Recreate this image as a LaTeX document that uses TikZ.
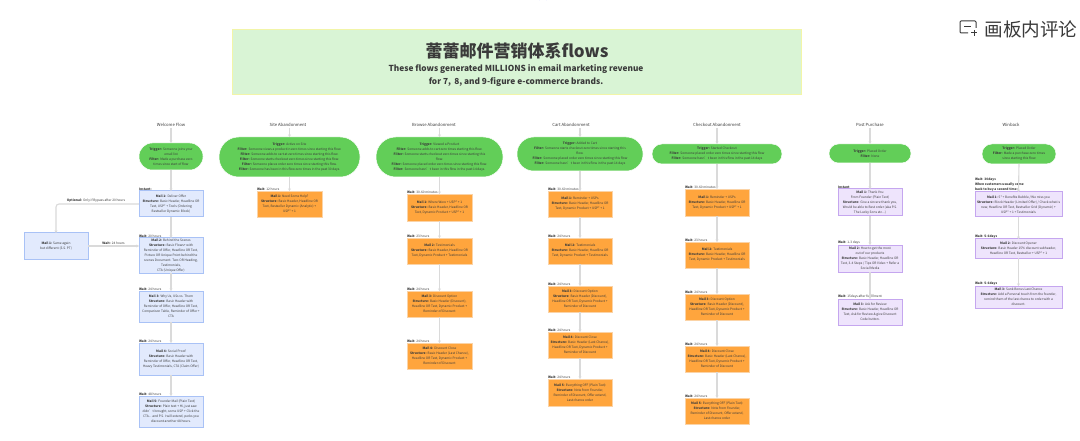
\documentclass[tikz,border=0pt]{standalone}
\usepackage{fontspec}
\setmainfont{Noto Sans CJK SC}
\usetikzlibrary{arrows.meta}
\definecolor{linegrey}{HTML}{DADADA}
\definecolor{inkgrey}{HTML}{3A3A3A}
\definecolor{pillgreen}{HTML}{62CE58}
\definecolor{orangefill}{HTML}{FFA53D}
\definecolor{orangeedge}{HTML}{FBD3A6}
\definecolor{bluefill}{HTML}{E2EAFD}
\definecolor{blueedge}{HTML}{A9C2F6}
\definecolor{purplefill}{HTML}{EEE4FC}
\definecolor{purpleedge}{HTML}{C5A6EF}
\definecolor{titlefill}{HTML}{D9F4D5}
\definecolor{titleedge}{HTML}{F2F5A8}
\tikzset{
  tinytext/.style={font=\fontsize{3.2}{5}\selectfont,text=inkgrey,align=center,inner sep=0pt,outer sep=0pt},
  pillbox/.style={tinytext,fill=pillgreen,draw=white,line width=.5pt},
  orangebox/.style={tinytext,fill=orangefill,draw=orangeedge,line width=.6pt},
  bluebox/.style={tinytext,fill=bluefill,draw=blueedge,line width=1pt},
  purplebox/.style={tinytext,fill=purplefill,draw=purpleedge,line width=1pt},
  flowtitle/.style={font=\fontsize{4.2}{5}\selectfont,text=inkgrey,inner sep=1pt},
  waitlabel/.style={tinytext,align=left,anchor=south west,yshift=.6pt},
  sidelabel/.style={tinytext},
  link/.style={draw=linegrey,line width=1.1pt,-{Stealth[length=2.6pt,width=3pt]}},
}
\newcommand{\flowbox}[7]{\node[#2,minimum width={(#5-#3)*1pt},minimum height={(#6-#4)*1pt}] (#1) at ({(#3+#5)/2},{(#4+#6)/2}) {#7};}
\newcommand{\pillnode}[6]{\node[pillbox,rounded corners={(#5-#3)*.49pt},minimum width={(#4-#2)*1pt},minimum height={(#5-#3)*1pt}] (#1) at ({(#2+#4)/2},{(#3+#5)/2}) {#6};}
\newcommand{\waitnode}[3]{\node[waitlabel] (#1) at (#2.north west) {#3};}
\newcommand{\titlenode}[3]{\node[flowtitle] (#1) at (#2,125) {#3};}
\newcommand{\lb}[1]{\textbf{#1}}
\begin{document}
\begin{tikzpicture}[x=1pt,y=-1pt]
\useasboundingbox (0,0) rectangle (1080,441);
\fill[white] (0,0) rectangle (1080,441);
% top marker and comment button
\draw[draw=blue!70!white,line width=.9pt] (539.5,0) arc[start angle=180,end angle=360,radius=3.5];
\draw[draw=inkgrey,line width=1pt,rounded corners=1pt] (968,33) -- (960,33) -- (960,21) -- (976,21) -- (976,28);
\draw[draw=inkgrey,line width=1pt] (971,33) -- (977,33) (974,30) -- (974,36) (964,27) -- (971,27);
\node[font=\fontsize{18.6}{20}\selectfont,text=inkgrey,inner sep=0pt] (comment) at (1031,29) {画板内评论};
% banner
\node[fill=titlefill,draw=titleedge,line width=.7pt,minimum width=569pt,minimum height=65pt,inner sep=0pt] (banner) at (516.5,61.5) {};
\node[font=\fontsize{17}{20}\selectfont\bfseries,text=inkgrey,inner sep=0pt] (bannertitle) at (517,51) {蕾蕾邮件营销体系flows};
\node[font=\fontsize{8.3}{12.6}\selectfont\bfseries,text=inkgrey,align=center,inner sep=0pt] (bannersub) at (516,75.5) {These flows generated MILLIONS in email marketing revenue\\for 7, \,8, and 9-figure e-commerce brands.};
% ---------- Welcome
\titlenode{wt}{171}{Welcome Flow}
\pillnode{wp}{139}{143}{203}{170}{\lb{Trigger:} Someone joins your\\email list\\[.6pt]\lb{Filter:} Made a purchase zero\\times since start of flow}
\flowbox{wa}{bluebox}{139}{191}{203}{217}{\lb{Mail 1:} Deliver Offer\\\lb{Structure:} Basic Header, Headline OR\\Text, USP* + Tools (Ordering\\Bestseller Dynamic Block)}
\flowbox{wb}{bluebox}{139}{238}{203}{273}{\lb{Mail 2:} Behind the Scenes\\\lb{Structure:} Basic Flows+ with\\Reminder of Offer, Headline OR Text,\\Picture OR Unique Point behind the\\scenes Document. Two OR Heading,\\Testimonials,\\CTA (Unique Offer)}
\flowbox{wc}{bluebox}{139}{291}{203}{322}{\lb{Mail 3:} Why Us, USs vs. Them\\\lb{Structure:} Basic Header with\\Reminder of Offer, Headline OR Text,\\Comparison Table, Reminder of Offer +\\CTA}
\flowbox{wd}{bluebox}{139}{343}{203}{375}{\lb{Mail 4:} Social Proof\\\lb{Structure:} Basic Header with\\Reminder of Offer, Headline OR Text,\\Heavy Testimonials, CTA (Claim Offer)}
\flowbox{we}{bluebox}{139}{396}{203}{427}{\lb{Mail 5:} Founder Mail (Plain Text)\\\lb{Structure:} Plain text + Hi, just saw\\didn't brought, some USP + Click the\\CTA... and P.S. I will extend, perks you\\discount another 48 hours.}
\flowbox{wf}{bluebox}{24}{233}{88}{259}{\lb{Mail 1:} Same again\\but different (S.S. PT)}
\waitnode{wal}{wa}{\lb{Instant:}}
\waitnode{wbl}{wb}{\lb{Wait:} 20 hours}
\waitnode{wcl}{wc}{\lb{Wait:} 24 hours}
\waitnode{wdl}{wd}{\lb{Wait:} 24 hours}
\waitnode{wel}{we}{\lb{Wait:} 48 hours}
\draw[link] (wt.south -| wp.north) -- (wp.north);
\draw[link] (wp.south) -- (wa.north);
\draw[link] (wa.south) -- (wb.north);
\draw[link] (wb.south) -- (wc.north);
\draw[link] (wc.south) -- (wd.north);
\draw[link] (wd.south) -- (we.north);
\draw[link,rounded corners=3pt] (wa.west) -| (wf.north);
\draw[link] (wf.east) -- (wf.east -| wb.west);
\node[sidelabel] (wol) at (96,201) {\lb{Optional:} Only if Bypass after 20 hours};
\node[sidelabel] (wfl) at (113.5,243.5) {\lb{Wait:} 24 hours};
% ---------- Site
\titlenode{st}{288}{Site Abandonment}
\pillnode{sp}{219}{137}{360}{177}{\lb{Trigger:} Active on Site\\\lb{Filter:} Someone views a product in zero times since starting this flow.\\\lb{Filter:} Someone adds to cart at zero times since starting this flow.\\\lb{Filter:} Someone starts checkout zero times since starting this flow.\\\lb{Filter:} Someone places order zero times since starting this flow.\\\lb{Filter:} Someone has been in this flow zero times in the past 30 days.}
\flowbox{sa}{orangebox}{257}{191}{322}{217}{\lb{Mail 1:} Need Some Help?\\\lb{Structure:} Basic Header, Headline OR\\Text, Bestseller Dynamic (Analytic) +\\USP* + 1}
\waitnode{sal}{sa}{\lb{Wait:} 12 hours}
\draw[link] (st.south -| sp.north) -- (sp.north);
\draw[link] (sp.south) -- (sa.north);
% ---------- Browse
\titlenode{bt}{434}{Browse Abandonment}
\pillnode{bp}{376}{137}{503}{177}{\lb{Trigger:} Viewed a Product\\\lb{Filter:} Someone adds to cart zero times starting this flow.\\\lb{Filter:} Someone starts checkout zero times since starting this\\flow.\\\lb{Filter:} Someone placed order zero times since starting this flow.\\\lb{Filter:} Someone hasn't been in this flow in the past 14 days.}
\flowbox{ba}{orangebox}{407}{194}{472}{221}{\lb{Mail 1:} Where Were + USP* + 1\\\lb{Structure:} Basic Header, Headline OR\\Text, Dynamic Product + USP* + 1}
\flowbox{bb}{orangebox}{407}{238}{472}{264}{\lb{Mail 2:} Testimonials\\\lb{Structure:} Basic Header, Headline OR\\Text, Dynamic Product + Testimonials}
\flowbox{bc}{orangebox}{407}{291}{472}{317}{\lb{Mail 3:} Discount Option\\\lb{Structure:} Basic Header (Discount),\\Headline OR Text, Dynamic Product +\\Reminder of Discount}
\flowbox{bd}{orangebox}{407}{343}{472}{369}{\lb{Mail 4:} Discount Close\\\lb{Structure:} Basic Header (Last Chance),\\Headline OR Text, Dynamic Product +\\Reminder of Discount}
\waitnode{bal}{ba}{\lb{Wait:} 30-60 minutes}
\waitnode{bbl}{bb}{\lb{Wait:} 23 hours}
\waitnode{bcl}{bc}{\lb{Wait:} 24 hours}
\waitnode{bdl}{bd}{\lb{Wait:} 24 hours}
\draw[link] (bt.south -| bp.north) -- (bp.north);
\draw[link] (bp.south) -- (ba.north);
\draw[link] (ba.south) -- (bb.north);
\draw[link] (bb.south) -- (bc.north);
\draw[link] (bc.south) -- (bd.north);
% ---------- Cart
\titlenode{ct}{571}{Cart Abandonment}
\pillnode{cp}{517}{137}{643}{171}{\lb{Trigger:} Added to Cart\\\lb{Filter:} Someone starts checkout zero times since starting this\\flow.\\\lb{Filter:} Someone placed order zero times since starting this flow\\\lb{Filter:} Someone hasn't been in this flow in the past 14 days}
\flowbox{ca}{orangebox}{548}{191}{612}{217}{\lb{Mail 1:} Reminder + USPs\\\lb{Structure:} Basic Header, Headline OR\\Text, Dynamic Product + USP* + 1}
\flowbox{cb}{orangebox}{548}{238}{612}{264}{\lb{Mail 2:} Testimonials\\\lb{Structure:} Basic Header, Headline OR\\Text, Dynamic Product + Testimonials}
\flowbox{cc}{orangebox}{548}{286}{612}{312}{\lb{Mail 3:} Discount Option\\\lb{Structure:} Basic Header (Discount),\\Headline OR Text, Dynamic Product +\\Reminder of Discount}
\flowbox{cd}{orangebox}{548}{332}{612}{358}{\lb{Mail 4:} Discount Close\\\lb{Structure:} Basic Header (Last Chance),\\Headline OR Text, Dynamic Product +\\Reminder of Discount}
\flowbox{ce}{orangebox}{548}{379}{612}{406}{\lb{Mail 5:} Everything OFF (Plain Text)\\\lb{Structure:} Note from Founder,\\Reminder of Discount, Offer extend,\\Last chance order}
\waitnode{cal}{ca}{\lb{Wait:} 30-60 minutes}
\waitnode{cbl}{cb}{\lb{Wait:} 24 hours}
\waitnode{ccl}{cc}{\lb{Wait:} 24 hours}
\waitnode{cdl}{cd}{\lb{Wait:} 24 hours}
\waitnode{cel}{ce}{\lb{Wait:} 24 hours}
\draw[link] (ct.south -| cp.north) -- (cp.north);
\draw[link] (cp.south) -- (ca.north);
\draw[link] (ca.south) -- (cb.north);
\draw[link] (cb.south) -- (cc.north);
\draw[link] (cc.south) -- (cd.north);
\draw[link] (cd.south) -- (ce.north);
% ---------- Checkout
\titlenode{kt}{717}{Checkout Abandonment}
\pillnode{kp}{652}{144}{782}{164}{\lb{Trigger:} Started Checkout\\\lb{Filter:} Someone placed order zero times since starting this flow\\\lb{Filter:} Someone hasn't been in this flow in the past 14 days}
\flowbox{ka}{orangebox}{685}{189}{749}{216}{\lb{Mail 1:} Reminder + USPs\\\lb{Structure:} Basic Header, Headline OR\\Text, Dynamic Product + USP* + 1}
\flowbox{kb}{orangebox}{685}{242}{749}{268}{\lb{Mail 2:} Testimonials\\\lb{Structure:} Basic Header, Headline OR\\Text, Dynamic Product + Testimonials}
\flowbox{kc}{orangebox}{685}{294}{749}{320}{\lb{Mail 3:} Discount Option\\\lb{Structure:} Basic Header (Discount),\\Headline OR Text, Dynamic Product +\\Reminder of Discount}
\flowbox{kd}{orangebox}{685}{346}{749}{372}{\lb{Mail 4:} Discount Close\\\lb{Structure:} Basic Header (Last Chance),\\Headline OR Text, Dynamic Product +\\Reminder of Discount}
\flowbox{ke}{orangebox}{685}{398}{749}{424}{\lb{Mail 5:} Everything OFF (Plain Text)\\\lb{Structure:} Note from Founder,\\Reminder of Discount, Offer extend,\\Last chance order}
\waitnode{kal}{ka}{\lb{Wait:} 30-60 minutes}
\waitnode{kbl}{kb}{\lb{Wait:} 23 hours}
\waitnode{kcl}{kc}{\lb{Wait:} 24 hours}
\waitnode{kdl}{kd}{\lb{Wait:} 24 hours}
\waitnode{kel}{ke}{\lb{Wait:} 24 hours}
\draw[link] (kt.south -| kp.north) -- (kp.north);
\draw[link] (kp.south) -- (ka.north);
\draw[link] (ka.south) -- (kb.north);
\draw[link] (kb.south) -- (kc.north);
\draw[link] (kc.south) -- (kd.north);
\draw[link] (kd.south) -- (ke.north);
% ---------- Post Purchase
\titlenode{pt}{870}{Post Purchase}
\pillnode{pp}{829}{144}{911}{163}{\lb{Trigger:} Placed Order\\\lb{Filter:} None}
\flowbox{pa}{purplebox}{838}{189}{902}{216}{\lb{Mail 1:} Thank You\\From Founder (Plain Text)\\\lb{Structure:} Give a sincere thank you,\\Would be able to Best order (aka P.S.\\The Lucky Sons etc...)}
\flowbox{pb}{purplebox}{838}{245}{902}{272}{\lb{Mail 2:} How to get the most\\out of our products\\\lb{Structure:} Basic Header, Headline OR\\Text, 3-4 Steps / Tips OR Video + Refer a\\Social Media}
\flowbox{pc}{purplebox}{838}{299}{902}{325}{\lb{Mail 3:} Ask for Review\\\lb{Structure:} Basic Header, Headline OR\\Text, Ask for Review \& give Discount\\Code button.}
\waitnode{pal}{pa}{\lb{Instant}}
\waitnode{pbl}{pb}{\lb{Wait:} 1-3 days}
\waitnode{pcl}{pc}{\lb{Wait:} 15days after fulfillment}
\draw[link] (pt.south -| pp.north) -- (pp.north);
\draw[link] (pp.south) -- (pa.north);
\draw[link] (pa.south) -- (pb.north);
\draw[link] (pb.south) -- (pc.north);
% ---------- Winback
\titlenode{xt}{1011}{Winback}
\pillnode{xp}{982}{144}{1056}{164}{\lb{Trigger:} Placed Order\\\lb{Filter:} Made a purchase zero times\\since starting this flow}
\flowbox{xa}{purplebox}{975}{192}{1062}{217}{\lb{Mail 1:} 5* + Benefits Bubble / We miss you\\\lb{Structure:} Block Header (Limited Offer) / Check what is\\new, Headline OR Text, Bestseller Grid (Dynamic) +\\USP* + 1 + Testimonials}
\flowbox{xb}{purplebox}{975}{239}{1062}{258}{\lb{Mail 2:} Discount Opener\\\lb{Structure:} Basic Header 15\% discount subheader,\\Headline OR Text, Bestseller + USP* + 1}
\flowbox{xc}{purplebox}{975}{286}{1062}{308}{\lb{Mail 3:} Sunk Bonus Last Chance\\\lb{Structure:} Add a Personal touch from the founder,\\remind them of the last chance to order with a\\discount.}
\waitnode{xal}{xa}{\lb{Wait: 30days}\\\lb{When customers usually come}\\\lb{back to buy a second time:}}
\waitnode{xbl}{xb}{\lb{Wait: 5-6days}}
\waitnode{xcl}{xc}{\lb{Wait: 5-6days}}
\draw[link] (xp.south) -- (xa.north);
\draw[link] (xa.south) -- (xb.north);
\draw[link] (xb.south) -- (xc.north);
\end{tikzpicture}
\end{document}
